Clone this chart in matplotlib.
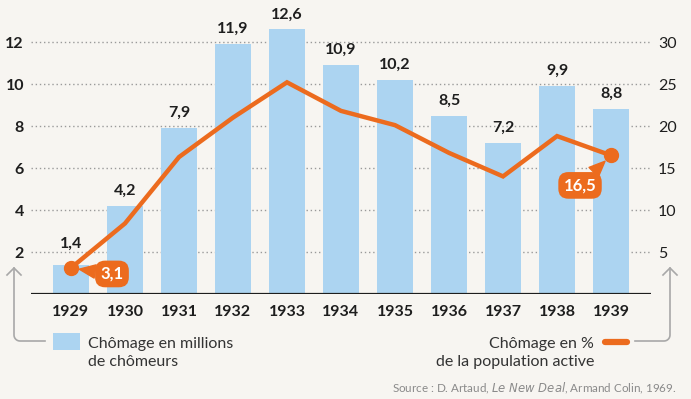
import matplotlib
matplotlib.use("Agg")
import matplotlib.pyplot as plt
from matplotlib.lines import Line2D
import numpy as np

# ---- data ----
years = ["1929", "1930", "1931", "1932", "1933", "1934", "1935", "1936", "1937", "1938", "1939"]
chomeurs_millions = [1.4, 4.2, 7.9, 11.9, 12.6, 10.9, 10.2, 8.5, 7.2, 9.9, 8.8]
chomage_pct = [3.1, 8.4, 16.3, 21.0, 25.2, 21.8, 20.1, 16.8, 14.0, 18.8, 16.5]
left_ticks = [2, 4, 6, 8, 10, 12]
right_ticks = [5, 10, 15, 20, 25, 30]
legend_bars = "Chômage en millions\nde chômeurs"
legend_line = "Chômage en %\nde la population active"

plt.rcParams['font.family'] = ['Lato', 'DejaVu Sans']

BG = "#f7f5f1"
BLUE = "#acd4f1"
ORANGE = "#ec6b1e"
DARK = "#1e1e1e"
GRID = "#9a9a9a"

W, H = 691, 399
fig = plt.figure(figsize=(W / 100, H / 100), dpi=100, facecolor=BG)

def fx(px):
    return px / W

def fy(py):
    return 1 - py / H

ax_left, ax_right, ax_bottom, ax_top = 31, 651, 294, 0
ax = fig.add_axes([fx(ax_left), fy(ax_bottom), fx(ax_right - ax_left), (ax_bottom - ax_top) / H])
ax.set_facecolor(BG)
x = np.arange(len(years))

ax.set_xlim(-0.74, len(years) - 1 + 0.74)
ax.set_ylim(0, 14)
for t in left_ticks:
    ax.axhline(t, color=GRID, lw=1.0, ls=(0, (1, 2)), zorder=0)

bars = ax.bar(x, chomeurs_millions, width=0.65, color=BLUE, zorder=2)
ax.axhline(0, color=DARK, lw=1.6, zorder=3)

for xi, v in zip(x, chomeurs_millions):
    off = 15 if xi != 0 else 21
    ax.annotate(f"{v:.1f}".replace(".", ","), (xi, v), xytext=(0, off), textcoords="offset pixels",
                ha="center", va="center", fontsize=11.5, fontweight="bold", color=DARK, zorder=5)

ax.set_yticks(left_ticks)
ax.set_yticklabels([str(t) for t in left_ticks], fontsize=11.5, fontweight="bold", color=DARK)
ax.set_xticks(x)
ax.set_xticklabels(years, fontsize=11.5, fontweight="bold", color=DARK)
ax.tick_params(axis="both", length=0)
ax.tick_params(axis="y", pad=5)
ax.tick_params(axis="x", pad=8)
for s in ax.spines.values():
    s.set_visible(False)

ax2 = ax.twinx()
ax2.set_ylim(0, 35)
ax2.plot(x, chomage_pct, color=ORANGE, lw=3.2, solid_joinstyle="miter", zorder=4)
ax2.plot([x[0], x[-1]], [chomage_pct[0], chomage_pct[-1]], "o", color=ORANGE, ms=10, zorder=5)
ax2.set_yticks(right_ticks)
ax2.set_yticklabels([str(t) for t in right_ticks], fontsize=11.5, color=DARK)
ax2.tick_params(axis="y", length=0, pad=5)
for s in ax2.spines.values():
    s.set_visible(False)

bbox = dict(boxstyle="round,pad=0.32,rounding_size=0.6", fc=ORANGE, ec="none")
wedge = dict(arrowstyle="wedge,tail_width=0.8,shrink_factor=0.5", color=ORANGE, shrinkA=0, shrinkB=6)
ax2.annotate(f"{chomage_pct[0]:.1f}".replace(".", ","), (x[0], chomage_pct[0]), xytext=(41, -6),
             textcoords="offset pixels", ha="center", va="center", fontsize=12, fontweight="bold",
             color="white", bbox=bbox, arrowprops=wedge, zorder=6)
ax2.annotate(f"{chomage_pct[-1]:.1f}".replace(".", ","), (x[-1], chomage_pct[-1]), xytext=(-31, -30),
             textcoords="offset pixels", ha="center", va="center", fontsize=12, fontweight="bold",
             color="white", bbox=bbox, arrowprops=wedge, zorder=6)

# ---- legend ----
fig.patches.append(plt.Rectangle((fx(53), fy(350)), fx(27), 17 / H, transform=fig.transFigure,
                                 fc=BLUE, ec="none"))
fig.text(fx(88), fy(353), legend_bars, ha="left", va="center", fontsize=11.5, color="#333333",
         linespacing=1.3, transform=fig.transFigure)
fig.text(fx(594), fy(353), legend_line, ha="right", va="center", fontsize=11.5, color="#333333",
         linespacing=1.3, multialignment="right")
fig.add_artist(Line2D([fx(605), fx(627)], [fy(342), fy(342)], color=ORANGE, lw=4.5,
                      solid_capstyle="round", transform=fig.transFigure))

# connector arrows
th = np.linspace(0, np.pi / 2, 10)
r = 6
lx = [45] + list(14 + r - r * np.sin(th)) + [14]
ly = [341] + list(341 - r + r * np.cos(th)) + [268]
fig.add_artist(Line2D([fx(v) for v in lx], [fy(v) for v in ly], color="#a8a8a8", lw=1.2,
                      transform=fig.transFigure))
fig.add_artist(Line2D([fx(7), fx(14), fx(21)], [fy(275), fy(268), fy(275)], color="#a8a8a8", lw=1.2,
                      transform=fig.transFigure))
rx = [635] + list(670 - r + r * np.sin(th)) + [670]
ry = ly
fig.add_artist(Line2D([fx(v) for v in rx], [fy(v) for v in ry], color="#a8a8a8", lw=1.2,
                      transform=fig.transFigure))
fig.add_artist(Line2D([fx(663), fx(670), fx(677)], [fy(275), fy(268), fy(275)], color="#a8a8a8", lw=1.2,
                      transform=fig.transFigure))

fig.text(fx(676), fy(388), "Source : D. Artaud, $\\it{Le\\ New\\ Deal}$, Armand Colin, 1969.",
         ha="right", va="center", fontsize=8.4, color="#8a8a8a")

fig.savefig("out.png", dpi=100, facecolor=BG)
